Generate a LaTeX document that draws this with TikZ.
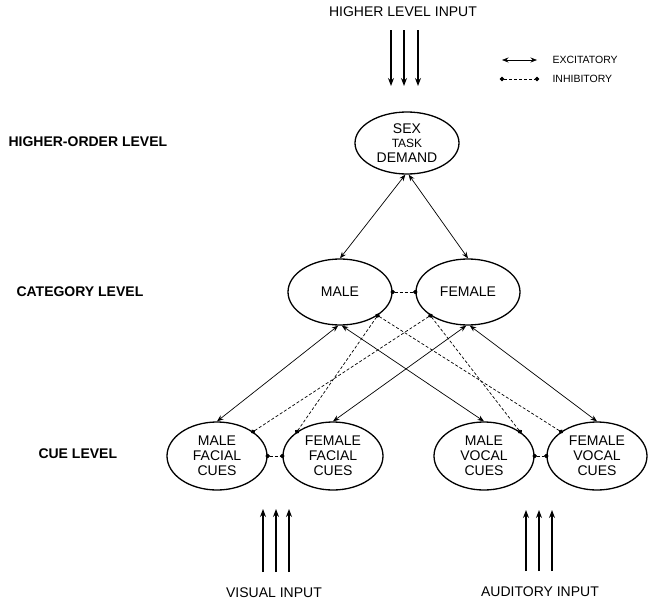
\documentclass[tikz,border=0pt]{standalone}
\usepackage{fontspec}
\setmainfont{Liberation Sans}
\usetikzlibrary{shapes.geometric,arrows.meta}

\begin{document}
\begin{tikzpicture}[x=1pt,y=-1pt,
  unit/.style={ellipse,draw,line width=1.3pt,inner sep=0pt,align=center,
    font=\fontsize{14}{15}\selectfont},
  excite/.style={{Stealth[length=6.5pt,width=5pt]}-{Stealth[length=6.5pt,width=5pt]},line width=0.7pt},
  inhibit/.style={{Circle[length=4.5pt]}-{Circle[length=4.5pt]},dash pattern=on 3pt off 2pt,
    line width=0.7pt,shorten <=-2.2pt,shorten >=-2.2pt},
  feed/.style={-{Stealth[length=8pt,width=6pt]},line width=1.2pt},
  level/.style={font=\bfseries\fontsize{14}{15}\selectfont,anchor=west},
  caption/.style={font=\fontsize{14}{15}\selectfont},
  key/.style={font=\fontsize{10.5}{12}\selectfont,anchor=west}]

\useasboundingbox (0,0) rectangle (648,605);

% level names on the left
\node[level] (lhigh) at (5,142) {HIGHER-ORDER LEVEL};
\node[level] (lcat) at (13,292) {CATEGORY LEVEL};
\node[level] (lcue) at (35,454) {CUE LEVEL};

% units
\node[unit,minimum width=104,minimum height=62] (sex) at (407,143)
  {SEX\\[-1pt]\fontsize{12}{15}\selectfont TASK\\DEMAND};
\node[unit,minimum width=104,minimum height=66] (male) at (340,292) {MALE};
\node[unit,minimum width=104,minimum height=66] (female) at (468,292) {FEMALE};
\node[unit,minimum width=100,minimum height=68] (mfac) at (217,456) {MALE\\FACIAL\\CUES};
\node[unit,minimum width=100,minimum height=68] (ffac) at (333,456) {FEMALE\\FACIAL\\CUES};
\node[unit,minimum width=100,minimum height=68] (mvoc) at (484,456) {MALE\\VOCAL\\CUES};
\node[unit,minimum width=100,minimum height=68] (fvoc) at (597,456) {FEMALE\\VOCAL\\CUES};

% excitatory links
\draw[excite] (sex.-93) -- (male.north);
\draw[excite] (sex.-87) -- (female.north);
\draw[excite] (male.-93) -- (mfac.north);
\draw[excite] (male.-87) -- (mvoc.north);
\draw[excite] (female.-93) -- (ffac.north);
\draw[excite] (female.-87) -- (fvoc.north);

% inhibitory links
\draw[inhibit] (male.east) -- (female.west);
\draw[inhibit] (mfac.east) -- (ffac.west);
\draw[inhibit] (mvoc.east) -- (fvoc.west);
\draw[inhibit] (male.-32) -- (ffac.146);
\draw[inhibit] (male.-32) -- (fvoc.146);
\draw[inhibit] (female.212) -- (mfac.34);
\draw[inhibit] (female.212) -- (mvoc.34);

% inputs
\node[caption] (hinput) at (403,12) {HIGHER LEVEL INPUT};
\node[caption] (vinput) at (274,593) {VISUAL INPUT};
\node[caption] (ainput) at (540,592) {AUDITORY INPUT};
\foreach \x/\n in {391/a,404/b,418/c} {
  \coordinate (htop\n) at (\x,30);
  \coordinate (hbot\n) at (\x,86);
  \draw[feed] (htop\n) -- (hbot\n);
}
\foreach \x/\n in {263/a,276/b,289/c} {
  \coordinate (vbot\n) at (\x,572);
  \coordinate (vtop\n) at (\x,509);
  \draw[feed] (vbot\n) -- (vtop\n);
}
\foreach \x/\n in {526/a,539/b,552/c} {
  \coordinate (abot\n) at (\x,571);
  \coordinate (atop\n) at (\x,510);
  \draw[feed] (abot\n) -- (atop\n);
}

% legend
\coordinate (exa) at (502,60);
\coordinate (exb) at (537,60);
\coordinate (ina) at (502,79);
\coordinate (inb) at (537,79);
\draw[excite] (exa) -- (exb);
\draw[inhibit] (ina) -- (inb);
\node[key] (exlabel) at (549,60) {EXCITATORY};
\node[key] (inlabel) at (549,79) {INHIBITORY};

\end{tikzpicture}
\end{document}
